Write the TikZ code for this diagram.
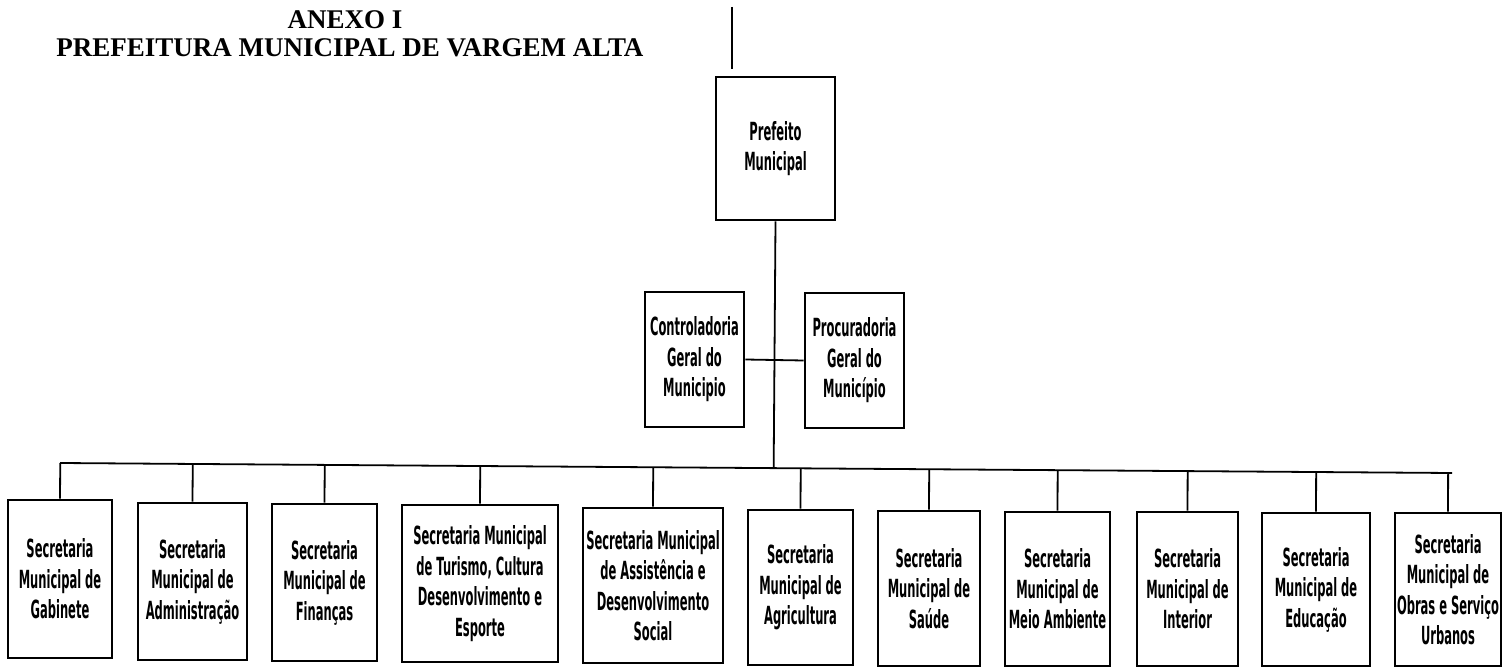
\documentclass[tikz,border=0pt]{standalone}
\usepackage{fontspec}
\setmainfont{Liberation Serif}
\newfontfamily\boxfont[FakeStretch=0.46]{DejaVu Sans}
\usetikzlibrary{calc}
\begin{document}
\begin{tikzpicture}[x=1pt,y=-1pt,
  orgbox/.style={draw, line width=2.6pt, inner sep=0pt, align=center,
    font=\boxfont\bfseries\fontsize{25}{30.5}\selectfont},
  link/.style={line width=1.8pt},
  titletext/.style={font=\bfseries\fontsize{27}{30}\selectfont, inner sep=0pt, anchor=base}]
\useasboundingbox (0,0) rectangle (1504,668);
\fill[white] (0,0) rectangle (1504,668);
% title
\node[titletext] (anexo) at (345,29) {ANEXO I};
\node[titletext] (pref) at (350,57) {PREFEITURA MUNICIPAL DE VARGEM ALTA};
% top
\coordinate (topA) at (732,7);
\coordinate (topB) at (732,69);
\draw[link] (topA) -- (topB);
\node[orgbox, minimum width=119, minimum height=143] (prefeito) at (775.5,148.5) {Prefeito\\Municipal};
\node[orgbox, minimum width=99, minimum height=135] (ctrl) at (694.5,359.5) {Controladoria\\Geral do\\Municipio};
\node[orgbox, minimum width=99, minimum height=135] (proc) at (854.5,360.5) {Procuradoria\\Geral do\\Município};
% bottom row
\node[orgbox, minimum width=104, minimum height=158] (b1) at (60,579) {Secretaria\\Municipal de\\Gabinete};
\node[orgbox, minimum width=109, minimum height=157] (b2) at (192.5,581.5) {Secretaria\\Municipal de\\Administração};
\node[orgbox, minimum width=105, minimum height=157] (b3) at (324.5,582.5) {Secretaria\\Municipal de\\Finanças};
\node[orgbox, minimum width=156, minimum height=157] (b4) at (480,583.5) {Secretaria Municipal\\de Turismo, Cultura\\Desenvolvimento e\\Esporte};
\node[orgbox, minimum width=140, minimum height=155] (b5) at (653,585.5) {Secretaria Municipal\\de Assistência e\\Desenvolvimento\\Social};
\node[orgbox, minimum width=105, minimum height=155] (b6) at (800.5,587.5) {Secretaria\\Municipal de\\Agricultura};
\node[orgbox, minimum width=102, minimum height=155] (b7) at (929,588.5) {Secretaria\\Municipal de\\Saúde};
\node[orgbox, minimum width=105, minimum height=154] (b8) at (1057.5,589) {Secretaria\\Municipal de\\Meio Ambiente};
\node[orgbox, minimum width=101, minimum height=154] (b9) at (1187.5,589) {Secretaria\\Municipal de\\Interior};
\node[orgbox, minimum width=108, minimum height=153] (b10) at (1316,589.5) {Secretaria\\Municipal de\\Educação};
\node[orgbox, minimum width=106, minimum height=153] (b11) at (1448,589.5) {Secretaria\\Municipal de\\Obras e Serviço\\Urbanos};
% bus
\coordinate (busL) at (60,463);
\coordinate (busR) at (1452,473);
\draw[link] (busL) -- (busR);
\foreach \b in {b1,b2,b3,b4,b5,b6,b7,b8,b9,b10,b11}
  \draw[link] (\b.north) -- ($(busL)!(\b.north)!(busR)$);
\draw[link] (prefeito.south) -- ($(busL)!(prefeito.south)!(busR)$);
\draw[link] (ctrl.east) -- (proc.west);
\end{tikzpicture}
\end{document}
